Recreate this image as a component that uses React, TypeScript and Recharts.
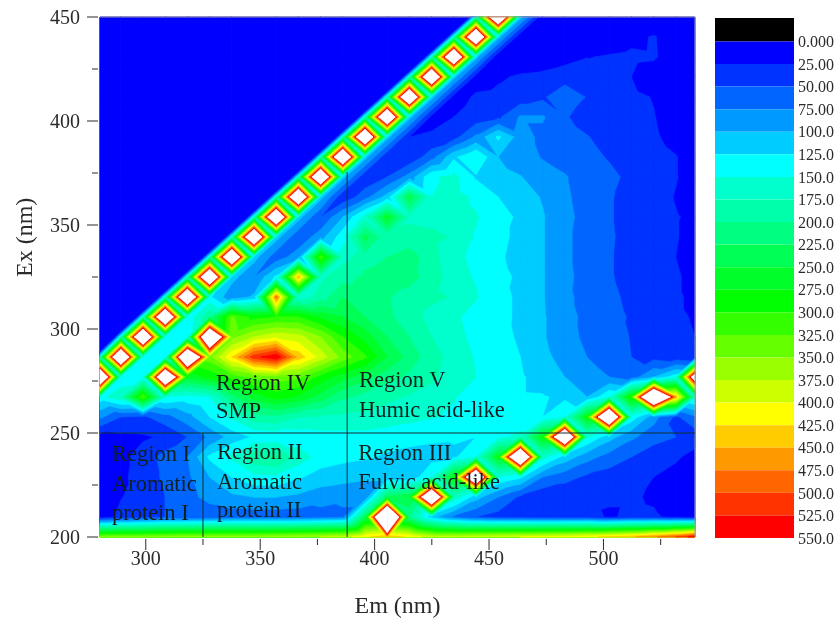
import React from "react";
import {
  Bar,
  BarChart,
  ReferenceDot,
  ReferenceLine,
  Scatter,
  ScatterChart,
  XAxis,
  YAxis,
} from "recharts";

const M = -350; // masked side of the scatter line, reads as the lowest band

const emGrid = [280, 289.1, 298.8, 308.5, 318.2, 327.9, 337.6, 347.3, 357, 366.7, 376.4, 386.1, 395.8, 405.5, 415.2, 424.9, 434.6, 444.3, 454, 463.7, 473.4, 483.1, 492.8, 502.5, 512.2, 521.9, 531.6, 540];
const exGrid = [200, 209.6, 219.2, 228.8, 238.5, 248.1, 257.7, 267.3, 276.9, 286.5, 296.2, 305.8, 315.4, 325, 334.6, 344.2, 353.8, 363.5, 373.1, 382.7, 392.3, 401.9, 411.5, 421.2, 430.8, 440.4, 450];

// rows run from Ex = 200 upward
const intensity = [
  [350,350,350,355,360,360,360,360,365,370,375,385,420,440,420,385,385,390,395,400,405,410,420,430,445,470,500,540],
  [15,30,40,50,50,55,60,60,60,60,65,70,230,950,200,110,70,50,40,38,35,35,35,22,30,28,20,15],
  [10,24,34,50,65,85,95,100,100,95,85,80,80,230,250,800,170,110,75,45,30,28,30,28,28,22,12,8],
  [10,20,35,55,70,100,125,142,145,128,115,110,105,105,105,150,280,770,150,130,75,60,45,38,30,25,18,12],
  [15,18,35,60,75,130,155,195,205,165,138,132,128,122,118,115,120,150,270,820,160,115,85,65,50,35,28,18],
  [15,20,22,28,50,80,110,128,132,135,140,140,140,135,132,130,128,125,140,160,280,800,150,110,80,60,50,35],
  [80,50,45,65,90,125,155,190,195,175,172,170,170,165,158,152,145,135,130,125,125,150,280,820,140,85,45,70],
  [140,170,325,150,140,150,215,260,285,270,240,205,190,180,172,162,152,138,133,128,127,120,100,150,300,850,450,160],
  [800,130,135,800,260,280,310,330,340,330,290,260,235,210,195,180,165,150,135,128,115,100,87,75,62,100,140,650],
  [165,800,130,135,820,340,425,515,548,440,390,340,305,250,215,185,165,148,135,125,107,91,75,62,50,42,35,28],
  [M,165,800,130,135,800,340,375,395,385,350,300,265,225,200,175,158,143,132,122,103,84,70,58,49,42,33,25],
  [M,M,165,800,130,200,330,290,300,300,270,250,225,205,188,165,155,140,133,120,103,85,68,60,47,35,27,24],
  [M,M,M,165,800,130,80,105,480,155,185,225,215,202,192,182,172,152,133,120,102,80,68,55,45,37,27,22],
  [M,M,M,M,165,800,110,75,130,450,170,190,205,212,208,190,158,148,130,122,102,82,65,52,43,35,27,20],
  [M,M,M,M,M,165,800,110,60,90,320,165,190,200,212,185,155,145,128,118,102,80,65,52,42,32,25,20],
  [M,M,M,M,M,M,165,800,110,55,90,140,235,180,185,182,172,148,130,120,102,80,65,53,42,33,26,20],
  [M,M,M,M,M,M,M,165,800,110,50,100,160,265,170,165,160,152,135,120,102,83,65,52,42,33,26,22],
  [M,M,M,M,M,M,M,M,165,800,110,30,65,110,245,150,160,145,125,112,98,80,63,52,43,33,24,18],
  [M,M,M,M,M,M,M,M,M,165,800,110,30,50,85,145,158,122,108,101,88,77,64,56,44,34,26,18],
  [M,M,M,M,M,M,M,M,M,M,165,800,110,28,30,65,120,150,100,88,73,65,57,48,40,33,26,15],
  [M,M,M,M,M,M,M,M,M,M,M,165,800,110,25,28,40,80,130,87,68,58,51,43,35,28,18,10],
  [M,M,M,M,M,M,M,M,M,M,M,M,165,800,110,18,25,35,45,78,78,52,42,36,32,26,15,8],
  [M,M,M,M,M,M,M,M,M,M,M,M,M,165,800,110,15,28,30,35,45,73,48,37,30,24,12,6],
  [M,M,M,M,M,M,M,M,M,M,M,M,M,M,165,800,110,15,22,28,30,35,47,35,25,12,8,5],
  [M,M,M,M,M,M,M,M,M,M,M,M,M,M,M,165,800,110,5,8,12,18,24,27,30,28,12,5],
  [M,M,M,M,M,M,M,M,M,M,M,M,M,M,M,M,165,800,110,5,5,5,8,10,18,27,12,5],
  [M,M,M,M,M,M,M,M,M,M,M,M,M,M,M,M,M,165,800,110,5,5,5,5,5,5,5,5],
];

const bandColors = [
  "#0000FF", "#0033FF", "#0066FF", "#0099FF", "#00CCFF", "#00FFFF",
  "#00FFCC", "#00FFAA", "#00FF80", "#00FF55", "#00FF2A", "#00FF00",
  "#33FF00", "#66FF00", "#99FF00", "#CCFF00", "#FFFF00",
  "#FFCC00", "#FF9900", "#FF6600", "#FF3300", "#FF0000",
];
const contourFills = [...bandColors, "#FFFFFF"];
const scaleTicks = [0, 25, 50, 75, 100, 125, 150, 175, 200, 225, 250, 275, 300, 325, 350, 375, 400, 425, 450, 475, 500, 525, 550];
const scaleLabels = ["0.000", "25.00", "50.00", "75.00", "100.0", "125.0", "150.0", "175.0", "200.0", "225.0", "250.0", "275.0", "300.0", "325.0", "350.0", "375.0", "400.0", "425.0", "450.0", "475.0", "500.0", "525.0", "550.0"];

const emTicks = [300, 325, 350, 375, 400, 425, 450, 475, 500, 525];
const exTicks = [200, 225, 250, 275, 300, 325, 350, 375, 400, 425, 450];

const regionLabels = [
  { text: "Region I", em: 285.2, ex: 240.4 },
  { text: "Aromatic", em: 285.2, ex: 226 },
  { text: "protein I", em: 285.2, ex: 212 },
  { text: "Region II", em: 331.1, ex: 241.3 },
  { text: "Aromatic", em: 331.1, ex: 226.9 },
  { text: "protein II", em: 331.1, ex: 213.5 },
  { text: "Region III", em: 392.8, ex: 240.9 },
  { text: "Fulvic acid-like", em: 392.8, ex: 226.9 },
  { text: "Region IV", em: 330.7, ex: 274.5 },
  { text: "SMP", em: 330.7, ex: 261 },
  { text: "Region V", em: 393.2, ex: 276 },
  { text: "Humic acid-like", em: 393.2, ex: 261.5 },
];

const W = 839;
const H = 623;
const plot = { left: 100, top: 17, right: 695, bottom: 537 };
const pxPerEm = (plot.right - plot.left) / 260;
const pxPerEx = (plot.bottom - plot.top) / 250;
const serif = "'Liberation Serif', serif";
const inkColor = "#2b2b2b";
const lineColor = "#12302f";

const gridPoints = exGrid.flatMap((ex, j) =>
  emGrid.map((em, i) => ({ em, ex, i, j, value: intensity[j][i] }))
);

const scaleRow: Record<string, number | string> = { name: "scale", below: -26 };
bandColors.forEach((_, k) => {
  scaleRow["b" + k] = 25;
});

type V = [number, number, number];

// keep the part of a triangle at or above one level
function clipAbove(poly: V[], level: number): V[] {
  const out: V[] = [];
  poly.forEach((p, n) => {
    const q = poly[(n + 1) % poly.length];
    if (p[2] >= level) out.push(p);
    if (p[2] >= level !== q[2] >= level) {
      const t = (level - p[2]) / (q[2] - p[2]);
      out.push([p[0] + (q[0] - p[0]) * t, p[1] + (q[1] - p[1]) * t, level]);
    }
  });
  return out;
}

function toPath(poly: V[]) {
  return poly.length < 3 ? "" : "M" + poly.map((p) => p[0].toFixed(2) + " " + p[1].toFixed(2)).join("L") + "Z";
}

// each grid point draws the cell up and to the right of it, one band at a time.
// the cell is split on its centre, which takes the lower of the two diagonal means
function contourCell(k: number) {
  return function ContourCell(props: any) {
    const { cx, cy, payload } = props;
    const { i, j } = payload;
    if (i >= emGrid.length - 1 || j >= exGrid.length - 1) return <g />;
    const dx = (emGrid[i + 1] - emGrid[i]) * pxPerEm;
    const dy = (exGrid[j + 1] - exGrid[j]) * pxPerEx;
    const a: V = [cx, cy, intensity[j][i]];
    const b: V = [cx + dx, cy, intensity[j][i + 1]];
    const c: V = [cx + dx, cy - dy, intensity[j + 1][i + 1]];
    const d: V = [cx, cy - dy, intensity[j + 1][i]];
    const mid: V = [cx + dx / 2, cy - dy / 2, Math.min((a[2] + c[2]) / 2, (b[2] + d[2]) / 2)];
    const level = k === 0 ? -1000 : k * 25;
    const path = [[a, b], [b, c], [c, d], [d, a]]
      .map(([p, q]) => toPath(clipAbove([p, q, mid], level)))
      .join("");
    if (!path) return <g />;
    return <path d={path} fill={contourFills[k]} stroke={contourFills[k]} strokeWidth={k === 0 ? 1 : 0.6} strokeLinejoin="round" />;
  };
}

function EmTick({ x, y, payload }: any) {
  const major = payload.value % 50 === 0;
  return (
    <g>
      <line x1={x} x2={x} y1={y} y2={y + (major ? 11 : 6)} stroke={inkColor} />
      {major && (
        <text x={x} y={y + 26} textAnchor="middle" fontFamily={serif} fontSize={20} fill={inkColor}>
          {payload.value}
        </text>
      )}
    </g>
  );
}

function ExTick({ x, y, payload }: any) {
  const major = payload.value % 50 === 0;
  return (
    <g>
      <line x1={x} x2={x - (major ? 11 : 6)} y1={y} y2={y} stroke={inkColor} />
      {major && (
        <text x={x - 18} y={y + 7} textAnchor="end" fontFamily={serif} fontSize={20} fill={inkColor}>
          {payload.value}
        </text>
      )}
    </g>
  );
}

export default function App() {
  return (
    <div style={{ position: "absolute", left: 0, top: 0, width: W, height: H, filter: "blur(0.6px)" }}>
      <div style={{ position: "absolute", left: 0, top: 0 }}>
        <ScatterChart width={W} height={H} margin={{ top: plot.top, right: W - plot.right, bottom: 8, left: 0 }}>
          <XAxis
            type="number"
            dataKey="em"
            domain={[280, 540]}
            ticks={emTicks}
            tick={<EmTick />}
            tickSize={0}
            tickLine={false}
            height={H - plot.bottom - 8}
            stroke={inkColor}
            label={{ value: "Em (nm)", position: "insideBottom", offset: 2, fontFamily: serif, fontSize: 24, fill: inkColor }}
          />
          <YAxis
            type="number"
            dataKey="ex"
            domain={[200, 450]}
            ticks={exTicks}
            tick={<ExTick />}
            tickSize={0}
            tickLine={false}
            width={plot.left}
            stroke={inkColor}
            label={{ value: "Ex (nm)", angle: -90, position: "insideLeft", offset: 23, fontFamily: serif, fontSize: 24, fill: inkColor }}
          />
          {contourFills.map((fill, k) => (
            <Scatter key={fill} data={gridPoints} shape={contourCell(k)} isAnimationActive={false} />
          ))}
        </ScatterChart>
      </div>
      <div style={{ position: "absolute", left: 0, top: 0 }}>
        <ScatterChart
          width={W}
          height={H}
          margin={{ top: plot.top, right: W - plot.right, bottom: H - plot.bottom, left: plot.left }}
        >
          <XAxis type="number" dataKey="em" domain={[280, 540]} hide />
          <YAxis type="number" dataKey="ex" domain={[200, 450]} hide />
          <Scatter data={gridPoints.slice(0, 1)} shape={() => <g />} isAnimationActive={false} />
          <ReferenceLine y={450} stroke="#9a9a9a" />
          <ReferenceLine x={540} stroke="#9a9a9a" />
          <ReferenceLine y={250} stroke={lineColor} />
          <ReferenceLine segment={[{ x: 325, y: 200 }, { x: 325, y: 250 }]} stroke={lineColor} />
          <ReferenceLine segment={[{ x: 388, y: 200 }, { x: 388, y: 375.5 }]} stroke={lineColor} />
          {regionLabels.map((r) => (
            <ReferenceDot
              key={r.text + r.ex}
              x={r.em}
              y={r.ex}
              r={0}
              stroke="none"
              fill="none"
              label={{ value: r.text, position: "right", offset: 0, fontFamily: serif, fontSize: 22.5, fill: "#10201f" }}
            />
          ))}
        </ScatterChart>
      </div>
      <div style={{ position: "absolute", left: 0, top: 0 }}>
        <BarChart
          width={W}
          height={H}
          data={[scaleRow]}
          stackOffset="sign"
          barCategoryGap={0}
          margin={{ top: 18, right: 0, bottom: H - 538, left: 715 }}
        >
          <XAxis dataKey="name" hide />
          <YAxis
            type="number"
            orientation="right"
            reversed
            domain={[-26, 550]}
            ticks={scaleTicks}
            tickFormatter={(v: number) => scaleLabels[scaleTicks.indexOf(v)]}
            interval={0}
            width={45}
            axisLine={false}
            tickLine={false}
            tickSize={0}
            tickMargin={4}
            tick={{ fontFamily: serif, fontSize: 16, fill: inkColor }}
          />
          <Bar dataKey="below" stackId="scale" fill="#000000" isAnimationActive={false} />
          {bandColors.map((color, k) => (
            <Bar key={color} dataKey={"b" + k} stackId="scale" fill={color} isAnimationActive={false} />
          ))}
        </BarChart>
      </div>
    </div>
  );
}
